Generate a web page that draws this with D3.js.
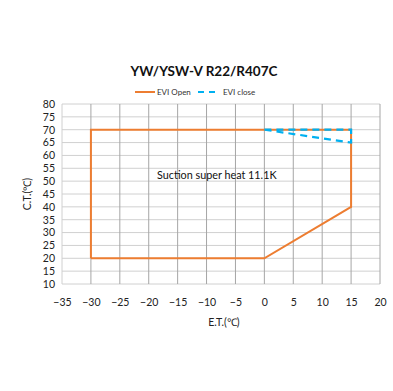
<!DOCTYPE html>
<html><head><meta charset="utf-8">
<script src="https://cdn.jsdelivr.net/npm/d3@7"></script>
<style>body{margin:0;background:#fff}svg{display:block}</style>
</head><body>
<script>
const title = "YW/YSW-V R22/R407C";
const xTicks = [-35,-30,-25,-20,-15,-10,-5,0,5,10,15,20];
const yTicks = [10,15,20,25,30,35,40,45,50,55,60,65,70,75,80];
const eviOpenET = [-30,-30,0,15,15,0,-30];
const eviOpenCT = [20,70,70,70,40,20,20];
const eviCloseET = [0,15,15,0];
const eviCloseCT = [70,70,65,70];
const seriesNames = ["EVI Open","EVI close"];
const annotation = "Suction super heat 11.1K";

const W=393,H=391;
const svg=d3.select("body").append("svg").attr("width",W).attr("height",H);
const x=d3.scaleLinear().domain([-35,20]).range([62,380]);
const y=d3.scaleLinear().domain([10,80]).range([284,104]);
const font="Lato, 'Open Sans', sans-serif";

svg.append("g").selectAll("line").data(yTicks).join("line")
  .attr("x1",x(-35)).attr("x2",x(20)).attr("y1",d=>y(d)).attr("y2",d=>y(d))
  .attr("stroke","#d0d0d0").attr("stroke-width",1);
svg.append("g").selectAll("line").data(xTicks).join("line")
  .attr("x1",d=>x(d)).attr("x2",d=>x(d)).attr("y1",y(80)).attr("y2",y(10))
  .attr("stroke",d=>d===-35?"#d0d0d0":"#a6a6a6").attr("stroke-width",1);

const xAxis=svg.append("g").attr("transform",`translate(0,${y(10)})`)
  .call(d3.axisBottom(x).tickValues(xTicks).tickSize(0).tickPadding(15));
const yAxis=svg.append("g").attr("transform",`translate(${x(-35)},0)`)
  .call(d3.axisLeft(y).tickValues(yTicks).tickSize(0).tickPadding(7));
[xAxis,yAxis].forEach(a=>{a.select(".domain").remove();
  a.selectAll("text").attr("font-family",font).attr("font-size",10.5).attr("fill","#222");});

const line=d3.line().x(d=>x(d[0])).y(d=>y(d[1]));
svg.append("path").datum(eviOpenET.map((v,i)=>[v,eviOpenCT[i]]))
  .attr("d",line).attr("fill","none").attr("stroke","#ED7D31").attr("stroke-width",2);
svg.append("path").datum(eviCloseET.map((v,i)=>[v,eviCloseCT[i]]))
  .attr("d",line).attr("fill","none").attr("stroke","#00B0F0").attr("stroke-width",2.2)
  .attr("stroke-dasharray","7,5");

svg.append("text").attr("x",204).attr("y",76).attr("text-anchor","middle")
  .attr("font-family",font).attr("font-size",13.5).attr("font-weight","bold").attr("fill","#111").text(title);

const lg=svg.append("g");
lg.append("line").attr("x1",135).attr("x2",155).attr("y1",92).attr("y2",92).attr("stroke","#ED7D31").attr("stroke-width",2);
lg.append("text").attr("x",157).attr("y",95).attr("font-family",font).attr("font-size",8).attr("fill","#333").text(seriesNames[0]);
lg.append("line").attr("x1",198).attr("x2",217).attr("y1",92).attr("y2",92).attr("stroke","#00B0F0").attr("stroke-width",2).attr("stroke-dasharray","6,5");
lg.append("text").attr("x",223).attr("y",95).attr("font-family",font).attr("font-size",8).attr("fill","#333").text(seriesNames[1]);

svg.append("text").attr("x",157).attr("y",179).attr("font-family",font).attr("font-size",10.8).attr("fill","#111").text(annotation);

svg.append("text").attr("x",x(-7)).attr("y",326).attr("text-anchor","middle")
  .attr("font-family",font).attr("font-size",10.5).attr("fill","#222").text("E.T.(℃)");
svg.append("text").attr("transform",`translate(31,${y(45)}) rotate(-90)`).attr("text-anchor","middle")
  .attr("font-family",font).attr("font-size",10.5).attr("fill","#222").text("C.T.(℃)");
</script>
</body></html>
